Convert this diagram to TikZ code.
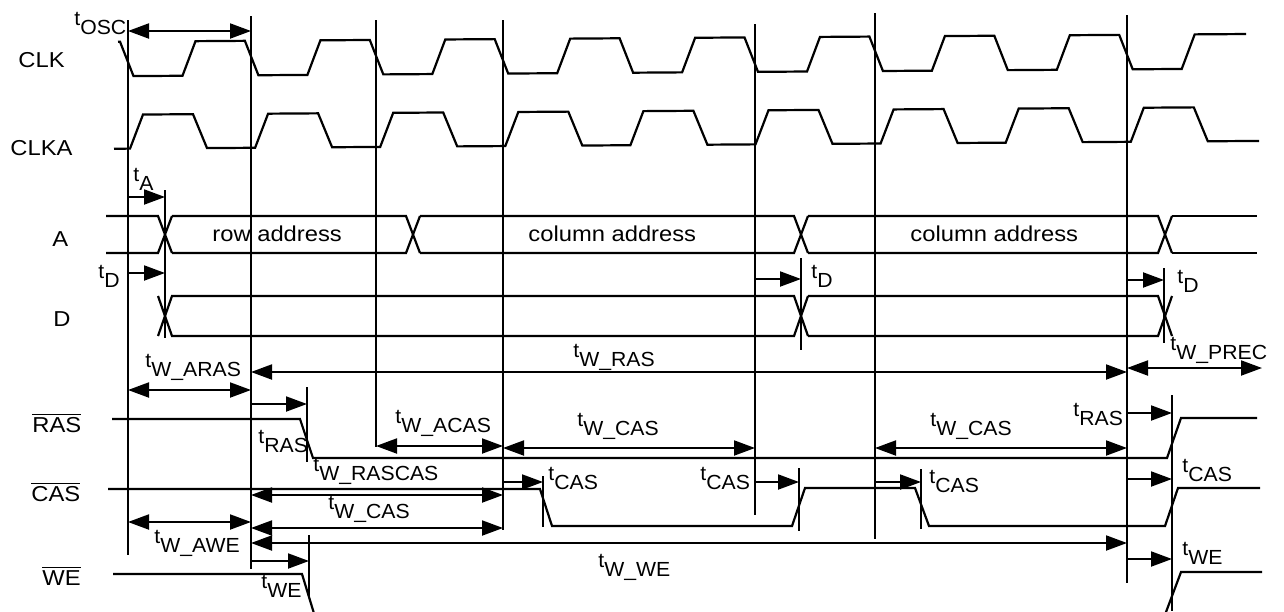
\documentclass[tikz,border=0pt]{standalone}
\usepackage{fontspec}
\setmainfont{Liberation Sans}
\usetikzlibrary{arrows.meta}
\newcommand{\tsb}[1]{t\raisebox{-4.6pt}{#1}}
\newcommand{\ovl}[1]{$\overline{\mbox{#1}}$}
\begin{document}
\begin{tikzpicture}[x=0.5pt,y=-0.5pt,
  wave/.style={line width=1.1pt, line join=miter},
  vline/.style={line width=1pt},
  arr/.style={-{Triangle[length=10.5pt,width=7.5pt]}, line width=1pt},
  darr/.style={{Triangle[length=10.5pt,width=7.5pt]}-{Triangle[length=10.5pt,width=7.5pt]}, line width=1pt},
  lbl/.style={inner sep=0pt, font=\fontsize{10.8}{12}\selectfont, xscale=1.1, anchor=base west},
  tlbl/.style={inner sep=0pt, font=\fontsize{10.2}{12}\selectfont, xscale=1.04, anchor=base west},
]
\useasboundingbox (0,0) rectangle (1284,611);
\clip (0,0) rectangle (1284,611);

% ---------- clocks (slight upward drift) ----------
\begin{scope}[yslant=0.0068]
\def\CH{42.5}\def\CL{77}
\draw[wave] (118,\CH)
  \foreach \k in {0,...,8}{
    -- ({120+124.9*\k},\CH) -- ({133.5+124.9*\k},\CL) -- ({182.5+124.9*\k},\CL) -- ({195.5+124.9*\k},\CH)
  } -- (1246,\CH);
\def\AH{115.5}\def\AL{149.5}
\draw[wave] (114,\AL)
  \foreach \k in {0,...,8}{
    -- ({130+125.1*\k},\AL) -- ({143+125.1*\k},\AH) -- ({193+125.1*\k},\AH) -- ({207+125.1*\k},\AL)
  } -- (1259,\AL);
\end{scope}

% ---------- vertical reference lines ----------
\draw[vline] (128,20) -- (128,555);
\draw[vline] (251,16) -- (251,569);
\draw[vline] (376,20) -- (376,447);
\draw[vline] (503,20) -- (503,530);
\draw[vline] (755,24) -- (755,515);
\draw[vline] (875,13) -- (875,539);
\draw[vline] (1127,15) -- (1127,583);
% markers
\draw[vline] (165,190) -- (165,338);
\draw[vline] (801,258) -- (801,350);
\draw[vline] (1164,268) -- (1164,343);
\draw[vline] (307,387) -- (307,462);
\draw[vline] (309,535) -- (309,598);
\draw[vline] (543,476) -- (543,527);
\draw[vline] (799,468) -- (799,531);
\draw[vline] (921,469) -- (921,529);
\draw[vline] (1172,395) -- (1172,611);

% ---------- A bus ----------
\def\AT{216}\def\AB{253}
\draw[wave] (106,\AT) -- (158,\AT) -- (172,\AB);
\draw[wave] (106,\AB) -- (158,\AB) -- (172,\AT);
\draw[wave] (172,\AT) -- (406,\AT) -- (420,\AB);
\draw[wave] (172,\AB) -- (406,\AB) -- (420,\AT);
\draw[wave] (420,\AT) -- (794,\AT) -- (808,\AB);
\draw[wave] (420,\AB) -- (794,\AB) -- (808,\AT);
\draw[wave] (808,\AT) -- (1158,\AT) -- (1172,\AB);
\draw[wave] (808,\AB) -- (1158,\AB) -- (1172,\AT);
\draw[wave] (1172,\AT) -- (1257,\AT);
\draw[wave] (1172,\AB) -- (1257,\AB);

% ---------- D bus ----------
\def\DT{296}\def\DB{336}
\draw[wave] (158,\DT) -- (172,\DB) -- (794,\DB) -- (808,\DT);
\draw[wave] (158,\DB) -- (172,\DT) -- (794,\DT) -- (808,\DB);
\draw[wave] (808,\DT) -- (1158,\DT) -- (1172,\DB);
\draw[wave] (808,\DB) -- (1158,\DB) -- (1172,\DT);

% ---------- RAS, CAS, WE ----------
\draw[wave] (112,419) -- (300,419) -- (313,458) -- (1167,458) -- (1181,418) -- (1257,418);
\draw[wave] (108,489) -- (540,489) -- (552,526) -- (792,526) -- (805,488) -- (915,488)
  -- (929,526) -- (1165,526) -- (1178,488) -- (1260,488);
\draw[wave] (113,574) -- (302,574) -- (316,620) -- (1163,620) -- (1181,572) -- (1262,572);

% ---------- single arrows ----------
\draw[arr] (128,197) -- (165,197);
\draw[arr] (128,273) -- (165,273);
\draw[arr] (755,279) -- (801,279);
\draw[arr] (1127,280) -- (1164,280);
\draw[arr] (251,404) -- (307,404);
\draw[arr] (503,482) -- (543,482);
\draw[arr] (755,482) -- (799,482);
\draw[arr] (875,482) -- (921,482);
\draw[arr] (1127,413) -- (1172,413);
\draw[arr] (1127,479) -- (1172,479);
\draw[arr] (251,561) -- (309,561);
\draw[arr] (1127,559) -- (1172,559);

% ---------- double arrows ----------
\draw[darr] (128,31) -- (251,31);
\draw[darr] (128,390) -- (251,390);
\draw[darr] (251,372) -- (1127,372);
\draw[darr] (1127,368) -- (1262,368);
\draw[darr] (376,446) -- (503,446);
\draw[darr] (503,448) -- (755,448);
\draw[darr] (875,448) -- (1127,448);
\draw[darr] (251,495) -- (503,495);
\draw[darr] (251,528) -- (503,528);
\draw[darr] (128,522) -- (251,522);
\draw[darr] (251,543) -- (1127,543);

% ---------- signal labels ----------
\node[lbl] (clk) at (18,67) {CLK};
\node[lbl] (clka) at (10,155) {CLKA};
\node[lbl] (la) at (52,246) {A};
\node[lbl] (ld) at (53,326) {D};
\node[lbl] (lras) at (32,432) {\ovl{RAS}};
\node[lbl] (lcas) at (31,501) {\ovl{CAS}};
\node[lbl] (lwe) at (42,585) {\ovl{WE}};
\node[lbl] (row) at (212,241) {row address};
\node[lbl] (col1) at (528,241) {column address};
\node[lbl] (col2) at (910,241) {column address};

% ---------- timing labels ----------
\node[tlbl] (tosc) at (74,25) {\tsb{OSC}};
\node[tlbl] (ta) at (133,181) {\tsb{A}};
\node[tlbl] (td1) at (98,278) {\tsb{D}};
\node[tlbl] (td2) at (811,278) {\tsb{D}};
\node[tlbl] (td3) at (1177,283) {\tsb{D}};
\node[tlbl] (twaras) at (145,367) {\tsb{W\_ARAS}};
\node[tlbl] (twras) at (573,357) {\tsb{W\_RAS}};
\node[tlbl] (twprec) at (1170,350) {\tsb{W\_PREC}};
\node[tlbl] (tras1) at (258,443) {\tsb{RAS}};
\node[tlbl] (twacas) at (395,423) {\tsb{W\_ACAS}};
\node[tlbl] (twrascas) at (313,471) {\tsb{W\_RASCAS}};
\node[tlbl] (twcas1) at (328,509) {\tsb{W\_CAS}};
\node[tlbl] (twcas2) at (577,426) {\tsb{W\_CAS}};
\node[tlbl] (twcas3) at (930,426) {\tsb{W\_CAS}};
\node[tlbl] (tcas1) at (548,480) {\tsb{CAS}};
\node[tlbl] (tcas2) at (700,480) {\tsb{CAS}};
\node[tlbl] (tcas3) at (929,483) {\tsb{CAS}};
\node[tlbl] (tras2) at (1073,416) {\tsb{RAS}};
\node[tlbl] (tcas4) at (1182,472) {\tsb{CAS}};
\node[tlbl] (twe2) at (1182,555) {\tsb{WE}};
\node[tlbl] (twawe) at (154,543) {\tsb{W\_AWE}};
\node[tlbl] (twe1) at (261,588) {\tsb{WE}};
\node[tlbl] (twwe) at (598,567) {\tsb{W\_WE}};
\end{tikzpicture}
\end{document}
